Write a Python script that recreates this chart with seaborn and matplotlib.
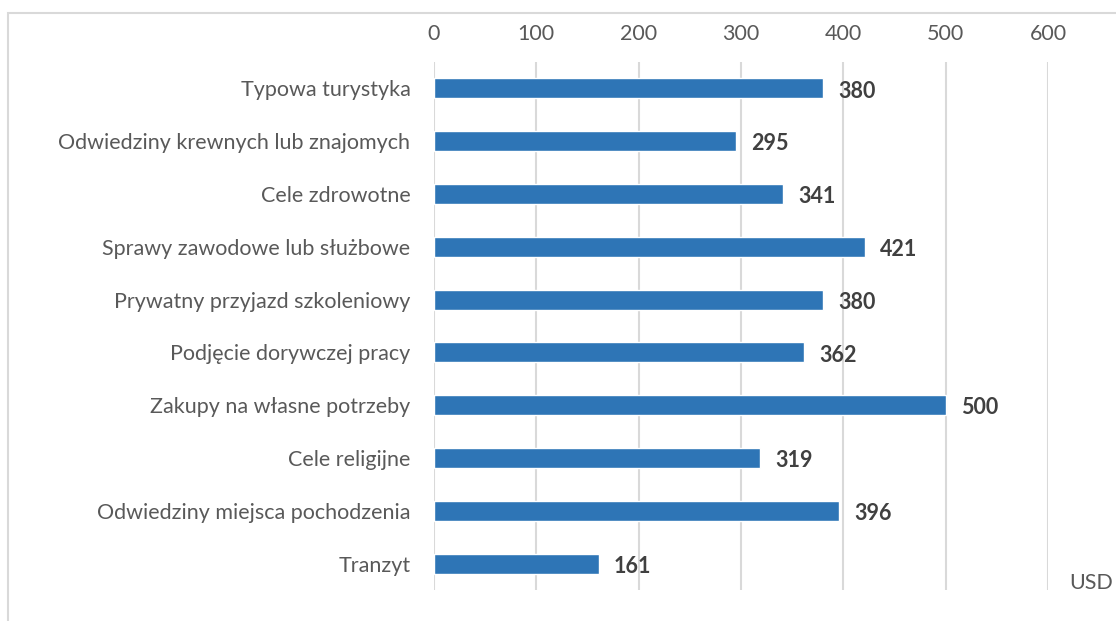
import matplotlib
matplotlib.use("Agg")
import pandas as pd
import seaborn as sns
from matplotlib import pyplot as plt
from matplotlib.patches import Rectangle

categories = [
    "Typowa turystyka",
    "Odwiedziny krewnych lub znajomych",
    "Cele zdrowotne",
    "Sprawy zawodowe lub służbowe",
    "Prywatny przyjazd szkoleniowy",
    "Podjęcie dorywczej pracy",
    "Zakupy na własne potrzeby",
    "Cele religijne",
    "Odwiedziny miejsca pochodzenia",
    "Tranzyt",
]
values = [380, 295, 341, 421, 380, 362, 500, 319, 396, 161]
ticks = [0, 100, 200, 300, 400, 500, 600]

df = pd.DataFrame({"cel": categories, "usd": values})

sns.set_style("white")
plt.rcParams["font.family"] = ["Lato", "DejaVu Sans"]
fs = 15.5

fig = plt.figure(figsize=(11.16, 6.21), dpi=100)
ax = fig.add_axes([434 / 1116, 1 - 590 / 621, (1048 - 434) / 1116, (590 - 62) / 621])

sns.barplot(data=df, x="usd", y="cel", color="#2E75B6", width=0.38,
            saturation=1, ax=ax, zorder=3)

ax.set_xlim(0, 600)
ax.set_xticks(ticks)
ax.xaxis.tick_top()
ax.tick_params(axis="x", length=0, pad=13, labelsize=fs, labelcolor="#595959")
ax.tick_params(axis="y", length=0, pad=17, labelsize=fs, labelcolor="#595959")
ax.set_xlabel("")
ax.set_ylabel("")
ax.grid(axis="x", color="#D9D9D9", linewidth=1.5, zorder=0)
for s in ax.spines.values():
    s.set_visible(False)

for i, v in enumerate(values):
    ax.annotate(str(v), (v, i), xytext=(11, -2), textcoords="offset points",
                ha="left", va="center", fontsize=fs, fontweight="bold",
                color="#404040")

# axis unit, bottom right corner
fig.text(1113 / 1116, 1 - 583 / 621, "USD", ha="right", va="center",
         fontsize=fs, color="#595959")

fig.patches.append(Rectangle((8 / 1116, -0.1), 1.2, 1 - 13 / 621 + 0.1,
                             transform=fig.transFigure, fill=False,
                             edgecolor="#D9D9D9", linewidth=1.5))

fig.savefig("out.png", dpi=100)
